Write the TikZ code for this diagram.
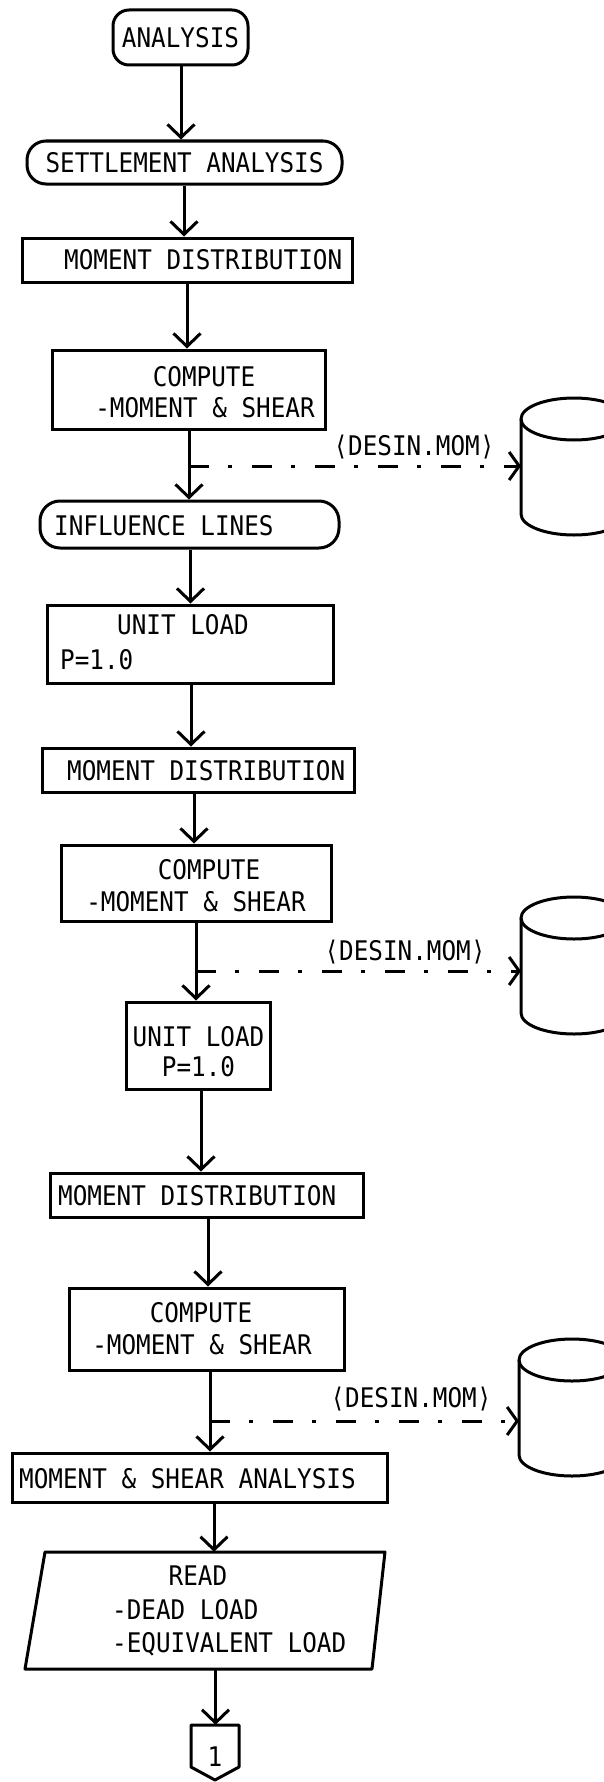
\documentclass[tikz,border=0pt]{standalone}
\usepackage{fontspec}
\newfontfamily\plotfont[FakeStretch=0.9]{DejaVu Sans Mono}
\usetikzlibrary{arrows.meta}
\begin{document}
\begin{tikzpicture}[x=1pt,y=-1pt,
  ln/.style={line width=3pt, line join=round},
  boxst/.style={draw, line width=3pt, rectangle, inner sep=0pt},
  term/.style={boxst, rounded corners=16pt},
  txt/.style={font=\plotfont\fontsize{27}{31}\selectfont, inner sep=0pt, text height=19.7pt, text depth=0pt},
  arr/.style={ln, -{Straight Barb[length=13pt,width=27pt]}},
  dd/.style={ln, dash pattern=on 20pt off 19pt on 4pt off 20pt, -{Straight Barb[length=10pt,width=28pt]}}
]
\clip (0,0) rectangle (604,1782);
\fill[white] (0,0) rectangle (604,1782);

% boxes
\node[term, txt, minimum width=135pt, minimum height=55pt] (an) at (180.5,37.5) {ANALYSIS};
\node[term, txt, minimum width=315pt, minimum height=43pt, rounded corners=19pt] (sa) at (184.5,162.5) {SETTLEMENT ANALYSIS};

\node[boxst, minimum width=330pt, minimum height=44pt] (md1) at (187,260) {};
\node[txt, anchor=west] (md1t) at (64,260) {MOMENT DISTRIBUTION};

\node[boxst, minimum width=273pt, minimum height=79pt] (cp1) at (188.5,389.5) {};
\node[txt] (cp1a) at (204,377) {COMPUTE};
\node[txt] (cp1b) at (205,408) {-MOMENT \& SHEAR};

\node[term, minimum width=299pt, minimum height=47pt, rounded corners=20pt] (il) at (189.5,524.5) {};
\node[txt, anchor=west] (ilt) at (54,526) {INFLUENCE LINES};

\node[boxst, minimum width=286pt, minimum height=78pt] (ul1) at (190,644) {};
\node[txt, anchor=west] (ul1a) at (117,625) {UNIT LOAD};
\node[txt, anchor=west] (ul1b) at (60,660) {P=1.0};

\node[boxst, minimum width=312pt, minimum height=44pt] (md2) at (198,770) {};
\node[txt, anchor=west] (md2t) at (67,771) {MOMENT DISTRIBUTION};

\node[boxst, minimum width=270pt, minimum height=76pt] (cp2) at (196,883) {};
\node[txt] (cp2a) at (209,870) {COMPUTE};
\node[txt] (cp2b) at (196,902) {-MOMENT \& SHEAR};

\node[boxst, minimum width=144pt, minimum height=87pt] (ul2) at (198,1045.5) {};
\node[txt] (ul2a) at (198.5,1037) {UNIT LOAD};
\node[txt] (ul2b) at (198.5,1067) {P=1.0};

\node[boxst, minimum width=313pt, minimum height=44pt] (md3) at (206.5,1195) {};
\node[txt, anchor=west] (md3t) at (58,1196) {MOMENT DISTRIBUTION};

\node[boxst, minimum width=275pt, minimum height=82pt] (cp3) at (206.5,1329) {};
\node[txt] (cp3a) at (201,1313) {COMPUTE};
\node[txt] (cp3b) at (202,1345) {-MOMENT \& SHEAR};

\node[boxst, minimum width=375pt, minimum height=49pt] (msa) at (199.5,1477.5) {};
\node[txt, anchor=west] (msat) at (19,1479) {MOMENT \& SHEAR ANALYSIS};

% read (parallelogram)
\node[minimum width=340pt, minimum height=117pt, inner sep=0pt] (rd) at (205,1610.5) {};
\draw[ln] (45,1552) -- (385,1552) -- (372,1669) -- (25,1669) -- cycle;
\node[txt] (rda) at (198,1576) {READ};
\node[txt, anchor=west] (rdb) at (112,1610) {-DEAD LOAD};
\node[txt, anchor=west] (rdc) at (112,1643) {-EQUIVALENT LOAD};

% off-page connector
\node[txt, minimum width=48pt, minimum height=64pt] (c1) at (215,1757) {1};
\draw[ln] (191,1725) -- (239,1725) -- (239,1767) -- (215,1780) -- (191,1767) -- cycle;

% main flow
\draw[arr] (an.south -| 181,0) -- (sa.north -| 181,0);
\draw[arr] (sa.south -| 184,0) -- (md1.north -| 184,0);
\draw[arr] (md1.south -| 187,0) -- (cp1.north -| 187,0);
\draw[arr] (cp1.south -| 189,0) -- (il.north -| 189,0);
\draw[arr] (il.south -| 190.5,0) -- (ul1.north -| 190.5,0);
\draw[arr] (ul1.south -| 191,0) -- (md2.north -| 191,0);
\draw[arr] (md2.south -| 194,0) -- (cp2.north -| 194,0);
\draw[arr] (cp2.south -| 196,0) -- (ul2.north -| 196,0);
\draw[arr] (ul2.south -| 201,0) -- (md3.north -| 201,0);
\draw[arr] (md3.south -| 208,0) -- (cp3.north -| 208,0);
\draw[arr] (cp3.south -| 210,0) -- (msa.north -| 210,0);
\draw[arr] (msa.south -| 214,0) -- (rd.north -| 214,0);
\draw[arr] (rd.south -| 215.5,0) -- (c1.north -| 215.5,0);

% disk files
\draw[ln] (574,419) ellipse[x radius=53, y radius=21];
\draw[ln] (521,419) -- (521,514) arc[start angle=180, end angle=0, x radius=53, y radius=21] -- (627,419);
\draw[ln] (574,918) ellipse[x radius=53, y radius=21];
\draw[ln] (521,918) -- (521,1013) arc[start angle=180, end angle=0, x radius=53, y radius=21] -- (627,918);
\draw[ln] (572,1360) ellipse[x radius=53, y radius=21];
\draw[ln] (519,1360) -- (519,1455) arc[start angle=180, end angle=0, x radius=53, y radius=21] -- (625,1360);

\coordinate (b1) at (189,466);
\coordinate (db1) at (521,466);
\coordinate (b2) at (196,971);
\coordinate (db2) at (521,971);
\coordinate (b3) at (210,1421);
\coordinate (db3) at (519,1421);
\draw[dd] (b1) -- (db1);
\draw[dd] (b2) -- (db2);
\draw[dd] (b3) -- (db3);

\node[txt] (lb1) at (414,446) {⟨DESIN.MOM⟩};
\node[txt] (lb2) at (405,951) {⟨DESIN.MOM⟩};
\node[txt] (lb3) at (411,1398) {⟨DESIN.MOM⟩};
\end{tikzpicture}
\end{document}
